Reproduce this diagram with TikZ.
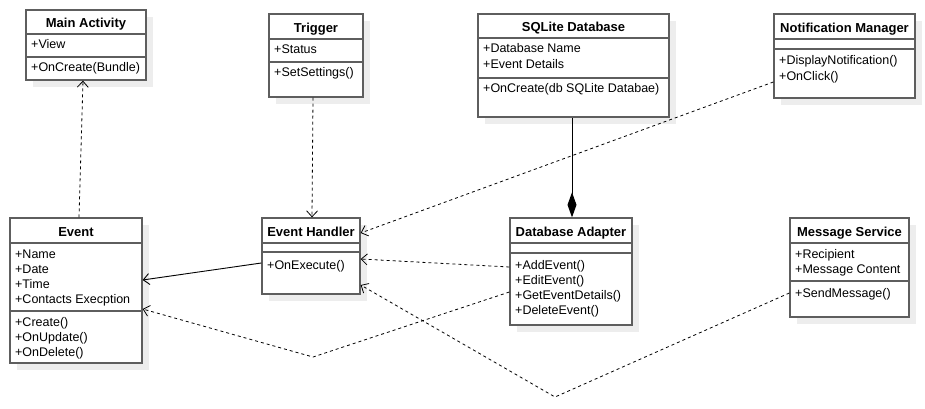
\documentclass[tikz,border=0pt]{standalone}
\usepackage{fontspec}
\setmainfont{Liberation Sans}
\usetikzlibrary{arrows.meta,calc,shadows}
\definecolor{boxc}{HTML}{5E5E5E}
\definecolor{shadc}{HTML}{EDEDED}
\begin{document}
\begin{tikzpicture}[x=1pt,y=-1pt,
  cls/.style={draw=boxc, fill=white, line width=1.3pt, inner sep=0pt,
    general shadow={fill=shadc, shadow xshift=7pt, shadow yshift=-7pt}},
  sepline/.style={draw=boxc, line width=1.3pt},
  attr/.style={anchor=base west, inner sep=0pt, font=\fontsize{12.5}{15}\selectfont},
  ttl/.style={anchor=base, inner sep=0pt, font=\fontsize{13}{15}\selectfont\bfseries},
  dep/.style={draw=black, line width=0.8pt, dash pattern=on 3pt off 3pt, -{Straight Barb[length=6pt,width=11pt]}},
  assoc/.style={draw=black, line width=0.9pt, -{Straight Barb[length=6pt,width=11pt]}},
  comp/.style={draw=black, line width=1pt, -{Diamond[length=25pt,width=9pt]}}
]
\useasboundingbox (0,0) rectangle (925,409);

% ---- Main Activity
\node[cls, minimum width=120pt, minimum height=70pt] (ma) at (86,45) {};
\draw[sepline] (ma.west |- 0,34) -- (ma.east |- 0,34);
\draw[sepline] (ma.west |- 0,57) -- (ma.east |- 0,57);
\node[ttl] (mat) at (86,28) {Main Activity};
\node[attr] (ma1) at (31,49) {+View};
\node[attr] (ma2) at (31,72) {+OnCreate(Bundle)};

% ---- Trigger
\node[cls, minimum width=94pt, minimum height=83pt] (tr) at (316,55.5) {};
\draw[sepline] (tr.west |- 0,39) -- (tr.east |- 0,39);
\draw[sepline] (tr.west |- 0,62) -- (tr.east |- 0,62);
\node[ttl] (trt) at (316,32.5) {Trigger};
\node[attr] (tr1) at (274,54) {+Status};
\node[attr] (tr2) at (274,77) {+SetSettings()};

% ---- SQLite Database
\node[cls, minimum width=191pt, minimum height=103pt] (sq) at (573.5,65.5) {};
\draw[sepline] (sq.west |- 0,38) -- (sq.east |- 0,38);
\draw[sepline] (sq.west |- 0,78) -- (sq.east |- 0,78);
\node[ttl] (sqt) at (573.5,31.5) {SQLite Database};
\node[attr] (sq1) at (483,53) {+Database Name};
\node[attr] (sq2) at (483,68.3) {+Event Details};
\node[attr] (sq3) at (483,93) {+OnCreate(db SQLite Databae)};

% ---- Notification Manager
\node[cls, minimum width=141pt, minimum height=84pt] (nm) at (844.5,56) {};
\draw[sepline] (nm.west |- 0,39) -- (nm.east |- 0,39);
\draw[sepline] (nm.west |- 0,49) -- (nm.east |- 0,49);
\node[ttl] (nmt) at (844.5,32.5) {Notification Manager};
\node[attr] (nm1) at (779,65) {+DisplayNotification()};
\node[attr] (nm2) at (779,80.3) {+OnClick()};

% ---- Event
\node[cls, minimum width=132pt, minimum height=145pt] (ev) at (76,290.5) {};
\draw[sepline] (ev.west |- 0,243) -- (ev.east |- 0,243);
\draw[sepline] (ev.west |- 0,311) -- (ev.east |- 0,311);
\node[ttl] (evt) at (76,236.5) {Event};
\node[attr] (ev1) at (15,258) {+Name};
\node[attr] (ev2) at (15,273.3) {+Date};
\node[attr] (ev3) at (15,288.6) {+Time};
\node[attr] (ev4) at (15,303.9) {+Contacts Execption};
\node[attr] (ev5) at (15,326) {+Create()};
\node[attr] (ev6) at (15,341.3) {+OnUpdate()};
\node[attr] (ev7) at (15,356.6) {+OnDelete()};

% ---- Event Handler
\node[cls, minimum width=98pt, minimum height=76pt] (eh) at (311,256) {};
\draw[sepline] (eh.west |- 0,243) -- (eh.east |- 0,243);
\draw[sepline] (eh.west |- 0,252) -- (eh.east |- 0,252);
\node[ttl] (eht) at (311,236.5) {Event Handler};
\node[attr] (eh1) at (267,269) {+OnExecute()};

% ---- Database Adapter
\node[cls, minimum width=122pt, minimum height=107pt] (da) at (571,271.5) {};
\draw[sepline] (da.west |- 0,243) -- (da.east |- 0,243);
\draw[sepline] (da.west |- 0,253) -- (da.east |- 0,253);
\node[ttl] (dat) at (571,236.5) {Database Adapter};
\node[attr] (da1) at (515,269) {+AddEvent()};
\node[attr] (da2) at (515,284) {+EditEvent()};
\node[attr] (da3) at (515,299) {+GetEventDetails()};
\node[attr] (da4) at (515,314) {+DeleteEvent()};

% ---- Message Service
\node[cls, minimum width=119pt, minimum height=99pt] (ms) at (849.5,267.5) {};
\draw[sepline] (ms.west |- 0,243) -- (ms.east |- 0,243);
\draw[sepline] (ms.west |- 0,281) -- (ms.east |- 0,281);
\node[ttl] (mst) at (849.5,236.5) {Message Service};
\node[attr] (ms1) at (795,258) {+Recipient};
\node[attr] (ms2) at (795,273.3) {+Message Content};
\node[attr] (ms3) at (795,297) {+SendMessage()};

% ---- connectors
\coordinate (v1) at (313,357);
\coordinate (v2) at (555,397);

\draw[dep] ($(ev.north)+(3,0)$) -- ($(ma.south)+(-3,0)$);
\draw[dep] ($(tr.south)+(-3,0)$) -- ($(eh.north)+(1,0)$);
\draw[dep] ($(nm.west)+(0,26)$) -- ($(eh.east)+(0,-23)$);
\draw[dep] ($(da.west)+(0,-4.5)$) -- ($(eh.east)+(0,3)$);
\draw[dep] ($(da.west)+(0,20.5)$) -- (v1) -- ($(ev.east)+(0,18.5)$);
\draw[dep] ($(ms.west)+(0,25.5)$) -- (v2) -- ($(eh.east)+(0,29)$);
\draw[assoc] ($(eh.west)+(0,7)$) -- ($(ev.east)+(0,-10.5)$);
\draw[comp] ($(sq.south)+(-1.5,0)$) -- ($(da.north)+(1,0)$);
\end{tikzpicture}
\end{document}
